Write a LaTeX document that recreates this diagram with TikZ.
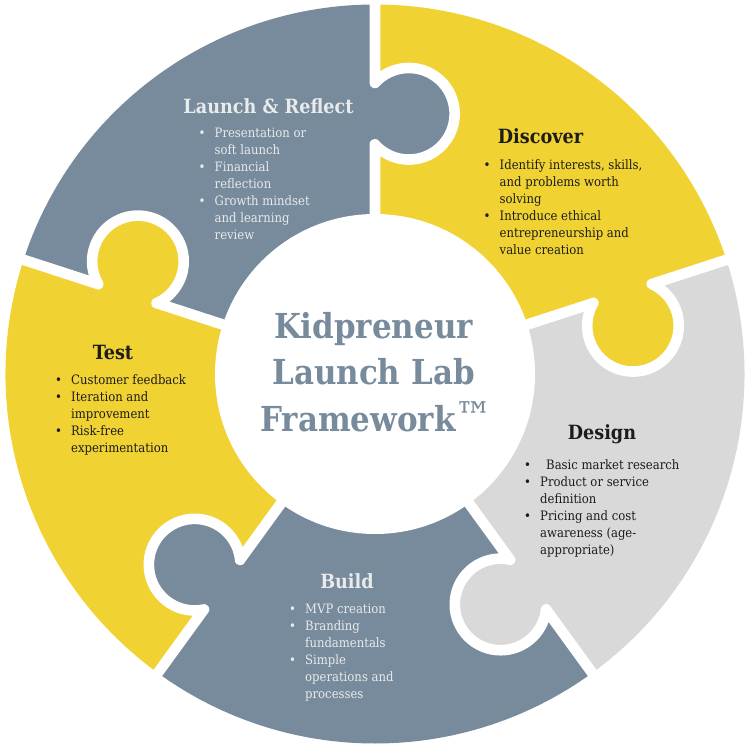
\documentclass[tikz,border=0pt]{standalone}
\usepackage{fontspec}
\usepackage{xcolor}
\setmainfont{DejaVu Serif Condensed}
\usetikzlibrary{positioning}
\definecolor{labslate}{HTML}{788B9C}
\definecolor{labyellow}{HTML}{F0D232}
\definecolor{labgray}{HTML}{D9D9D9}
\definecolor{labink}{HTML}{1C1C1C}
\definecolor{labpale}{HTML}{E8EAEC}
\newcommand{\labdot}{\raisebox{-.02em}{\fontsize{13}{13}\selectfont\textbullet}}

\begin{document}
\begin{tikzpicture}[
    x=1pt, y=1pt,
    seam/.style={white, line width=10.6pt, line join=round},
    hubdisc/.style={circle, fill=white, inner sep=0pt, minimum size=320pt},
    hubtitle/.style={align=center, text=labslate, font=\fontsize{34.4}{46.5}\selectfont\bfseries},
    stagehead/.style={inner sep=0pt, font=\fontsize{19.6}{24}\selectfont\bfseries},
    stagelist/.style={anchor=north west, inner sep=0pt, font=\fontsize{12.95}{17}\selectfont}
]
    \useasboundingbox (-375,-379) rectangle (377,374);

    \foreach \ang/\stagefill/\knobfill in {0/labyellow/labslate, 72/labgray/labyellow, 144/labslate/labgray, 216/labyellow/labslate, 288/labslate/labyellow} {
        \begin{scope}[rotate=-\ang]
            \fill[\stagefill] (90:369.5) arc[start angle=90, end angle=18, radius=369.5]
                -- (18:150) arc[start angle=18, end angle=90, radius=150] -- cycle;
            \fill[\knobfill] (-6,291) -- (-.2,290.9) arc[start angle=138, end angle=-138, radius=45.8] -- (-6,229.7) -- cycle;
        \end{scope}
    }
    \foreach \ang in {0,72,...,288} {
        \draw[seam, rotate=-\ang] (0,376) -- (0,291) -- (-.2,290.9)
            arc[start angle=138, end angle=-138, radius=45.8] -- (0,229.7) -- (0,150);
    }

    \node[hubdisc] (hub) at (0,0) {};
    \node[hubtitle] (title) at (-1.5,2) {Kidpreneur\\Launch Lab\\\hspace*{6pt}Framework{\mdseries\fontsize{41}{46.5}\selectfont ™}};

    \node[stagehead, text=labpale] (reflect) at (-106.5,268) {Launch \& Reflect};
    \node[stagelist, text=labpale] (reflectlist) at (-176.5,249) {\begin{tabular}{@{}p{16pt}@{}l@{}}
        \labdot & Presentation or\\
        & soft launch\\
        \labdot & Financial\\
        & reflection\\
        \labdot & Growth mindset\\
        & and learning\\
        & review
    \end{tabular}};

    \node[stagehead, text=labink] (discover) at (165.5,238) {Discover};
    \node[stagelist, text=labink] (discoverlist) at (108.5,217) {\begin{tabular}{@{}p{16pt}@{}l@{}}
        \labdot & Identify interests, skills,\\
        & and problems worth\\
        & solving\\
        \labdot & Introduce ethical\\
        & entrepreneurship and\\
        & value creation
    \end{tabular}};

    \node[stagehead, text=labink] (design) at (227,-60) {Design};
    \node[stagelist, text=labink] (designlist) at (149,-83) {\begin{tabular}{@{}p{16pt}@{}l@{}}
        \labdot & \hspace{6pt}Basic market research\\
        \labdot & Product or service\\
        & definition\\
        \labdot & Pricing and cost\\
        & awareness (age-\\
        & appropriate)
    \end{tabular}};

    \node[stagehead, text=labpale] (build) at (-28,-207) {Build};
    \node[stagelist, text=labpale] (buildlist) at (-86,-227) {\begin{tabular}{@{}p{16pt}@{}l@{}}
        \labdot & MVP creation\\
        \labdot & Branding\\
        & fundamentals\\
        \labdot & Simple\\
        & operations and\\
        & processes
    \end{tabular}};

    \node[stagehead, text=labink] (test) at (-262,22) {Test};
    \node[stagelist, text=labink] (testlist) at (-320,2) {\begin{tabular}{@{}p{16pt}@{}l@{}}
        \labdot & Customer feedback\\
        \labdot & Iteration and\\
        & improvement\\
        \labdot & Risk-free\\
        & experimentation
    \end{tabular}};
\end{tikzpicture}
\end{document}
